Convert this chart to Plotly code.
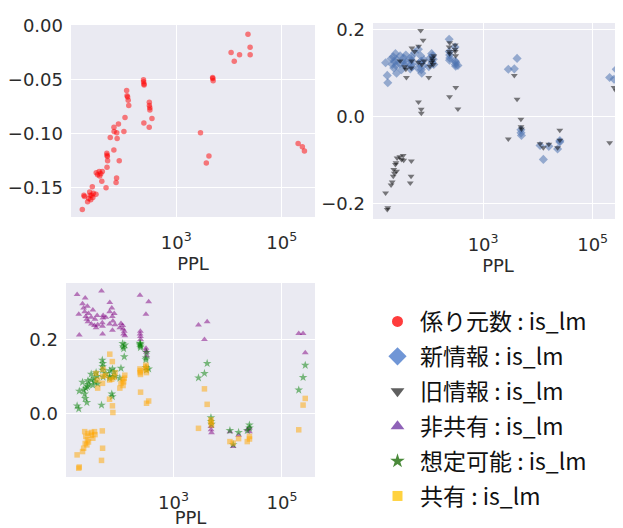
import plotly.graph_objects as go

# PPL of each language model (shared across all metrics)
ppl = [16.6, 17.8, 18.2, 20.9, 21.9, 22.9, 23.4, 24.0, 25.1, 25.7, 26.3, 26.9,
       30.2, 30.5, 32.4, 34.7, 35.5, 37.2, 38.9, 39.8,
       46.8, 48.4, 49.0, 49.5, 50.1, 48.8, 56.2, 66.1, 66.5, 65.8, 72.4, 74.1, 74.5, 75.9, 80.4, 83.2,
       102, 107, 115, 117, 120, 123, 126,
       240, 241, 245, 246, 244, 309, 310, 316, 317, 308, 347,
       2884, 3715, 4169, 4898, 4920, 5012,
       10965, 12589, 15849, 22909, 25119, 25200,
       204174, 245471, 269153]

# 係り元数
kakari = [-0.170, -0.157, -0.158, -0.163, -0.160, -0.154, -0.157, -0.161, -0.157, -0.149, -0.159, -0.155,
          -0.156, -0.136, -0.138, -0.135, -0.139, -0.137, -0.144, -0.135,
          -0.150, -0.118, -0.120, -0.121, -0.125, -0.131, -0.1035, -0.094, -0.098, -0.115, -0.145, -0.141, -0.099, -0.1045, -0.091, -0.125,
          -0.098, -0.085, -0.060, -0.065, -0.066, -0.069, -0.074,
          -0.050, -0.052, -0.054, -0.055, -0.090, -0.071, -0.074, -0.076, -0.078, -0.094, -0.086,
          -0.099, -0.127, -0.1205, -0.048, -0.049, -0.051,
          -0.025, -0.033, -0.027, -0.008, -0.020, -0.027,
          -0.109, -0.112, -0.116]

# 新情報
shin = [0.124, 0.095, 0.078, 0.133, 0.120, 0.138, 0.112, 0.128, 0.145, 0.118, 0.100, 0.130,
        0.122, 0.140, 0.108, 0.127, 0.135, 0.118, 0.142, 0.125,
        0.110, 0.132, 0.120, 0.128, 0.115, 0.138, 0.147, 0.110, 0.122, 0.155, 0.140, 0.128, 0.108, 0.100, 0.118, 0.130,
        0.115, 0.135, 0.145, 0.125, 0.140, 0.132, 0.120,
        0.178, 0.150, 0.142, 0.135, 0.130, 0.128, 0.120, 0.116, 0.125, 0.160, 0.118,
        0.109, 0.110, 0.134, -0.030, -0.037, -0.043,
        -0.066, -0.098, -0.068, -0.074, -0.058, -0.055,
        0.090, 0.086, 0.109]

# 旧情報
kyu = [-0.175, -0.213, -0.209, -0.157, -0.150, -0.137, -0.121, -0.130, -0.110, -0.106, -0.125, -0.095,
       -0.092, 0.128, -0.098, -0.089, -0.100, 0.115, 0.109, 0.090,
       -0.152, -0.137, -0.102, 0.128, 0.158, 0.112, 0.150, 0.034, 0.162, 0.125, 0.198, 0.017, 0.008, 0.120, 0.176, 0.128,
       0.090, 0.116, 0.125, 0.135, 0.130, 0.120, 0.140,
       0.160, 0.150, 0.170, 0.145, 0.046, 0.165, 0.150, 0.140, 0.067, 0.155, 0.018,
       -0.051, 0.095, 0.040, -0.006, -0.023, -0.028,
       -0.062, -0.071, -0.063, -0.071, -0.031, -0.054,
       -0.060, 0.067, 0.059]

# 非共有
hikyoyu = [0.322, 0.268, 0.212, 0.297, 0.285, 0.275, 0.312, 0.262, 0.255, 0.290, 0.248, 0.270,
           0.260, 0.242, 0.280, 0.238, 0.255, 0.232, 0.265, 0.240,
           0.331, 0.245, 0.215, 0.258, 0.265, 0.236, 0.260, 0.275, 0.300, 0.242, 0.285, 0.262, 0.225, 0.250, 0.270, 0.240,
           0.232, 0.243, 0.238, 0.228, 0.215, 0.222, 0.210,
           0.320, 0.215, 0.208, 0.200, 0.222, 0.268, 0.176, 0.165, 0.155, 0.170, 0.302,
           0.239, 0.200, 0.248, -0.036, -0.045, -0.053,
           -0.050, -0.090, -0.060, -0.045, -0.050, -0.040,
           0.216, 0.216, 0.164]

# 想定可能
soutei = [0.020, 0.012, 0.060, 0.084, 0.063, 0.052, 0.040, 0.068, 0.029, 0.072, 0.088, 0.078,
          0.106, 0.090, 0.076, 0.095, 0.085, 0.110, 0.100, 0.080,
          0.022, 0.144, 0.126, 0.135, 0.098, 0.117, 0.108, 0.100, 0.115, 0.095, 0.052, 0.045, 0.120, 0.098, 0.112, 0.100,
          0.095, 0.122, 0.189, 0.180, 0.175, 0.153, 0.185,
          0.190, 0.185, 0.178, 0.182, 0.188, 0.150, 0.124, 0.117, 0.165, 0.145, 0.120,
          0.096, 0.108, 0.135, -0.012, -0.022, -0.030,
          -0.047, -0.085, -0.052, -0.047, -0.032, -0.040,
          0.063, 0.097, 0.130]

# 共有
kyoyu = [-0.113, -0.149, -0.146, -0.104, -0.095, -0.050, -0.082, -0.063, -0.086, -0.072, -0.055, -0.078,
         -0.060, -0.052, -0.068, -0.050, -0.058, 0.108, 0.090, 0.068,
         -0.128, -0.048, -0.095, 0.100, 0.119, 0.081, 0.103, 0.090, 0.160, 0.038, 0.092, 0.140, 0.020, 0.002, 0.098, 0.110,
         0.068, 0.081, 0.090, 0.075, 0.085, 0.095, 0.103,
         0.120, 0.110, 0.105, 0.057, 0.115, 0.130, 0.118, 0.110, 0.027, 0.125, 0.033,
         -0.041, 0.066, 0.024, -0.018, -0.025, -0.032,
         -0.077, -0.081, -0.069, -0.077, -0.063, -0.070,
         -0.045, 0.022, 0.040]

legend_labels = ["係り元数 : is_lm", "新情報 : is_lm", "旧情報 : is_lm",
                 "非共有 : is_lm", "想定可能 : is_lm", "共有 : is_lm"]

FONT = "Noto Sans CJK JP, Noto Sans, sans-serif"
TICKFONT = "DejaVu Sans, sans-serif"
TXT = "#2b2b2b"

fig = go.Figure()


def add(ys, xa, ya, symbol, color, size, opacity):
    fig.add_trace(go.Scatter(
        x=ppl, y=ys, mode="markers", xaxis=xa, yaxis=ya, showlegend=False,
        marker=dict(symbol=symbol, color=color, size=size, opacity=opacity,
                    line=dict(width=0))))


add(kakari, "x", "y", "circle", "#ff0000", 5.5, 0.5)
add(shin, "x2", "y2", "diamond", "#4c72b0", 7, 0.55)
add(kyu, "x2", "y2", "triangle-down", "#000000", 6, 0.5)
add(hikyoyu, "x3", "y3", "triangle-up", "#800080", 6, 0.5)
add(soutei, "x3", "y3", "star", "#008000", 6.5, 0.5)
add(kyoyu, "x3", "y3", "square", "#ffa500", 5.5, 0.5)

leg_style = [("circle", "#ff3c3c", 11), ("diamond", "#7096d6", 14),
             ("triangle-down", "#5f5f5f", 12), ("triangle-up", "#8f62b8", 12),
             ("star", "#4a8a3a", 11), ("square", "#ffd23f", 10)]
for i, (lab, (sym, col, sz)) in enumerate(zip(legend_labels, leg_style)):
    fig.add_trace(go.Scatter(
        x=[None], y=[None], mode="markers", name=lab, legendgroup=str(i),
        marker=dict(symbol=sym, color=col, size=sz, line=dict(width=0)),
        xaxis="x", yaxis="y"))

# page body has an 8px margin, so the figure is drawn 8px in from the corner
OFF = 8
W, H = 623 - OFF, 528 - OFF


def xdom(a, b):
    return [(a - OFF) / W, min((b - OFF) / W, 1.0)]


def ydom(top, bot):
    return [(H - (bot - OFF)) / H, (H - (top - OFF)) / H]


xcommon = dict(type="log", tickvals=[1e3, 1e5],
               ticktext=["10<sup>3</sup>", "10<sup>5</sup>"],
               showgrid=True, gridcolor="white", gridwidth=1.2,
               zeroline=False, showline=False, ticks="", automargin=False,
               ticklabelstandoff=13,
               tickfont=dict(size=18, color=TXT, family=TICKFONT),
               title=dict(text="PPL", font=dict(size=18, color=TXT, family=TICKFONT), standoff=3))
ycommon = dict(showgrid=True, gridcolor="white", gridwidth=1.2, zeroline=False,
               showline=False, ticks="", ticklabelstandoff=7, automargin=False,
               tickfont=dict(size=18, color=TXT, family=TICKFONT))

fig.update_layout(
    width=W, height=H, margin=dict(l=0, r=0, t=0, b=0),
    paper_bgcolor="white", plot_bgcolor="#eaeaf2",
    font=dict(family=FONT, color=TXT),
    xaxis=dict(xcommon, domain=xdom(71, 315), range=[1.006, 5.63], anchor="y"),
    yaxis=dict(ycommon, domain=ydom(25, 217), range=[-0.177, 0.0005], anchor="x",
               tickvals=[0, -0.05, -0.10, -0.15],
               ticktext=["0.00", "−0.05", "−0.10", "−0.15"]),
    xaxis2=dict(xcommon, domain=xdom(373, 623), range=[0.99, 5.554], anchor="y2"),
    yaxis2=dict(ycommon, domain=ydom(23, 219), range=[-0.235, 0.2154], anchor="x2",
                tickvals=[0.2, 0.0, -0.2], ticktext=["0.2", "0.0", "−0.2"]),
    xaxis3=dict(xcommon, domain=xdom(66, 315), range=[1.015, 5.61], anchor="y3"),
    yaxis3=dict(ycommon, domain=ydom(283, 477), range=[-0.173, 0.353], anchor="x3",
                tickvals=[0.2, 0.0], ticktext=["0.2", "0.0"]),
    legend=dict(x=(375 - OFF) / W, y=(H - (300 - OFF)) / H, xanchor="left", yanchor="top",
                font=dict(size=23, color="#111111", family=FONT),
                bgcolor="rgba(0,0,0,0)", tracegroupgap=2, itemwidth=35),
)

fig.write_html("out.html")
